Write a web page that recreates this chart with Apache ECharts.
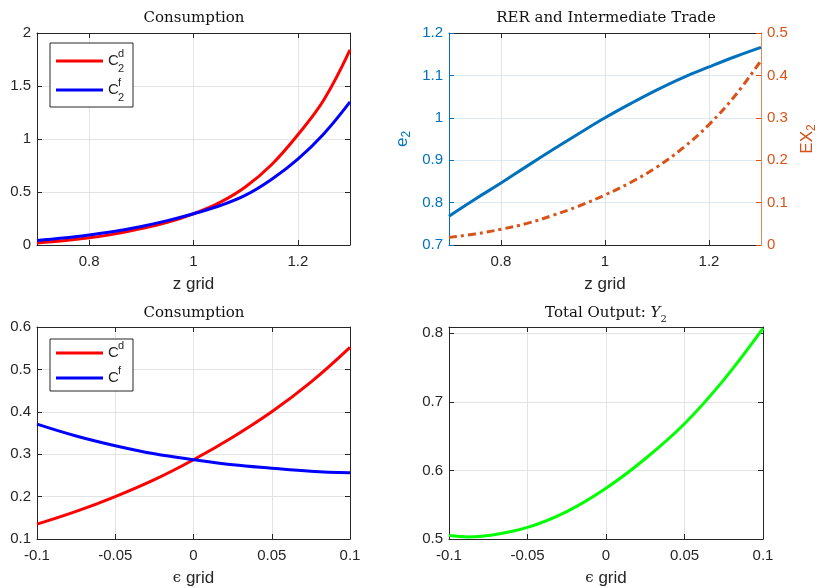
<!DOCTYPE html>
<html>
<head>
<meta charset="utf-8">
<script src="https://cdn.jsdelivr.net/npm/echarts@6/dist/echarts.min.js"></script>
<style>html,body{margin:0;padding:0;background:#fff}#c{width:819px;height:588px}</style>
</head>
<body>
<div id="c"></div>
<script>
// ---- data ----
const zGrid = [0.7, 0.75, 0.8, 0.85, 0.9, 0.95, 1.0, 1.05, 1.1, 1.15, 1.2, 1.25, 1.3];
const zTicks = [0.8, 1.0, 1.2];
const cd2 = [0.02, 0.04, 0.068, 0.105, 0.155, 0.215, 0.295, 0.4, 0.55, 0.76, 1.04, 1.37, 1.84];
const cf2 = [0.042, 0.065, 0.095, 0.13, 0.175, 0.23, 0.295, 0.37, 0.47, 0.62, 0.81, 1.05, 1.35];
const e2 = [0.768, 0.808, 0.846, 0.886, 0.925, 0.963, 1.0, 1.034, 1.066, 1.095, 1.12, 1.144, 1.166];
const ex2 = [0.018, 0.026, 0.037, 0.051, 0.07, 0.092, 0.118, 0.148, 0.184, 0.229, 0.284, 0.352, 0.435];
const epsGrid = [-0.1, -0.075, -0.05, -0.025, 0, 0.025, 0.05, 0.075, 0.1];
const cd = [0.135, 0.165, 0.2, 0.24, 0.287, 0.34, 0.4, 0.47, 0.552];
const cf = [0.371, 0.343, 0.32, 0.301, 0.287, 0.275, 0.267, 0.26, 0.256];
const epsGridY = [-0.1, -0.0875, -0.075, -0.05, -0.025, 0, 0.025, 0.05, 0.075, 0.1];
const y2 = [0.505, 0.503, 0.505, 0.517, 0.54, 0.574, 0.617, 0.668, 0.732, 0.807];

const SANS = 'Liberation Sans, Helvetica, Arial, sans-serif';
const SERIF = 'DejaVu Serif, serif';
const DARK = '#262626';
const GRIDC = '#e3e3e3';
const BLUE = '#0072BD';
const ORANGE = '#D95319';

function pairs(xs, ys) { return xs.map((x, i) => [x, ys[i]]); }

function xBottom(gi, min, max, interval, name, ticks) {
  const ax = {
    gridIndex: gi, type: 'value', min, max, interval, position: 'bottom',
    axisLine: { onZero: false, lineStyle: { color: DARK, width: 1 } },
    axisTick: { inside: true, length: 5, lineStyle: { color: DARK } },
    axisLabel: { color: DARK, fontSize: 15, fontFamily: SANS, margin: 9 },
    splitLine: { show: true, lineStyle: { color: GRIDC } },
    name, nameLocation: 'middle', nameGap: 31,
    nameTextStyle: { color: DARK, fontSize: 17, fontFamily: SANS,
      rich: { e: { fontFamily: SERIF, fontSize: 15, color: DARK } } }
  };
  if (ticks) {
    ax.axisTick.customValues = ticks;
    ax.axisLabel.customValues = ticks;
    ax.splitLine.customValues = ticks;
  }
  return ax;
}
function xTop(gi, min, max, interval, ticks) {
  const ax = {
    gridIndex: gi, type: 'value', min, max, interval, position: 'top',
    axisLine: { onZero: false, lineStyle: { color: DARK, width: 1 } },
    axisTick: { inside: true, length: 5, lineStyle: { color: DARK } },
    axisLabel: { show: false }, splitLine: { show: false }
  };
  if (ticks) ax.axisTick.customValues = ticks;
  return ax;
}
function yLeft(gi, min, max, interval, color, gridColor, extra) {
  return Object.assign({
    gridIndex: gi, type: 'value', min, max, interval, position: 'left',
    axisLine: { show: true, onZero: false, lineStyle: { color: color, width: 1 } },
    axisTick: { show: true, inside: true, length: 5, lineStyle: { color: color } },
    axisLabel: { color: color, fontSize: 15, fontFamily: SANS, margin: 6 },
    splitLine: { show: true, lineStyle: { color: gridColor } }
  }, extra || {});
}
function yRight(gi, min, max, interval) {
  return {
    gridIndex: gi, type: 'value', min, max, interval, position: 'right',
    axisLine: { show: true, onZero: false, lineStyle: { color: DARK, width: 1 } },
    axisTick: { show: true, inside: true, length: 5, lineStyle: { color: DARK } },
    axisLabel: { show: false }, splitLine: { show: false }
  };
}

function legendBox(x, y, w, h, lines) {
  const els = [{ type: 'rect', shape: { x, y, width: w, height: h },
    style: { fill: '#fff', stroke: DARK, lineWidth: 1 }, z: 100 }];
  lines.forEach(l => {
    els.push({ type: 'line', shape: { x1: x + 6, y1: l.y, x2: x + 53, y2: l.y },
      style: { stroke: l.color, lineWidth: 3 }, z: 101 });
    els.push({ type: 'text', x: x + 58, y: l.y, z: 101,
      style: { text: 'C', fontSize: 15, fontFamily: SANS, fill: DARK, verticalAlign: 'middle', align: 'left' } });
    els.push({ type: 'text', x: x + 68, y: l.y - 7, z: 101,
      style: { text: l.sup, fontSize: 11, fontFamily: SANS, fill: DARK, verticalAlign: 'middle', align: 'left' } });
    if (l.sub) {
      els.push({ type: 'text', x: x + 68, y: l.y + 8, z: 101,
        style: { text: l.sub, fontSize: 11, fontFamily: SANS, fill: DARK, verticalAlign: 'middle', align: 'left' } });
    }
  });
  return els;
}

function title(x, y, text, rich) {
  return { type: 'text', x, y, z: 100,
    style: { text, fontSize: 15, fontFamily: SERIF, fill: '#111', align: 'center', verticalAlign: 'middle', rich: rich || {} } };
}

const option = {
  animation: false,
  backgroundColor: '#fff',
  grid: [
    { left: 37, top: 33, width: 313, height: 212 },
    { left: 449, top: 33, width: 314, height: 212 },
    { left: 37, top: 327, width: 313, height: 213 },
    { left: 449, top: 327, width: 314, height: 213 }
  ],
  xAxis: [
    xBottom(0, 0.7, 1.3, 0.1, 'z grid', zTicks), xTop(0, 0.7, 1.3, 0.1, zTicks),
    xBottom(1, 0.7, 1.3, 0.1, 'z grid', zTicks), xTop(1, 0.7, 1.3, 0.1, zTicks),
    xBottom(2, -0.1, 0.1, 0.05, '{e|ϵ} grid'), xTop(2, -0.1, 0.1, 0.05),
    xBottom(3, -0.1, 0.1, 0.05, '{e|ϵ} grid'), xTop(3, -0.1, 0.1, 0.05)
  ],
  yAxis: [
    yLeft(0, 0, 2, 0.5, DARK, GRIDC), yRight(0, 0, 2, 0.5),
    yLeft(1, 0.7, 1.2, 0.1, BLUE, '#dce9f3', {
      name: 'e{s|2}', nameLocation: 'middle', nameRotate: 90, nameGap: 36,
      nameTextStyle: { color: BLUE, fontSize: 17, fontFamily: SANS, lineHeight: 22,
        rich: { s: { fontSize: 12, color: BLUE, fontFamily: SANS, verticalAlign: 'bottom', lineHeight: 11 } } }
    }),
    {
      gridIndex: 1, type: 'value', min: 0, max: 0.5, interval: 0.1, position: 'right',
      axisLine: { show: true, onZero: false, lineStyle: { color: '#E8845A', width: 1 } },
      axisTick: { show: true, inside: true, length: 5, lineStyle: { color: ORANGE } },
      axisLabel: { color: ORANGE, fontSize: 15, fontFamily: SANS, margin: 6 },
      splitLine: { show: false },
      name: 'EX{s|2}', nameLocation: 'middle', nameRotate: 90, nameGap: 35,
      nameTextStyle: { color: ORANGE, fontSize: 17, fontFamily: SANS, lineHeight: 22,
        rich: { s: { fontSize: 12, color: ORANGE, fontFamily: SANS, verticalAlign: 'bottom', lineHeight: 11 } } }
    },
    yLeft(2, 0.1, 0.6, 0.1, DARK, GRIDC), yRight(2, 0.1, 0.6, 0.1),
    yLeft(3, 0.5, 0.809, 0.1, DARK, GRIDC, {}), yRight(3, 0.5, 0.809, 0.1)
  ],
  graphic: [
    title(194, 18, 'Consumption'),
    title(606, 18, 'RER and Intermediate Trade'),
    title(194, 313, 'Consumption'),
    title(606, 313, 'Total Output: {i|Y}{s|2}', {
      i: { fontFamily: SERIF, fontStyle: 'italic', fontSize: 15, fill: '#111', lineHeight: 22 },
      s: { fontFamily: SERIF, fontSize: 10, fill: '#111', verticalAlign: 'bottom', lineHeight: 12 }
    })
  ].concat(
    legendBox(50, 43, 83, 64, [
      { y: 61, color: '#FF0000', sup: 'd', sub: '2' },
      { y: 90, color: '#0000FF', sup: 'f', sub: '2' }
    ]),
    legendBox(50, 339, 83, 52, [
      { y: 353, color: '#FF0000', sup: 'd' },
      { y: 378, color: '#0000FF', sup: 'f' }
    ])
  ),
  series: [
    { type: 'line', name: 'C2d', xAxisIndex: 0, yAxisIndex: 0, data: pairs(zGrid, cd2), smooth: 0.4, showSymbol: false, lineStyle: { color: '#FF0000', width: 3 }, z: 3 },
    { type: 'line', name: 'C2f', xAxisIndex: 0, yAxisIndex: 0, data: pairs(zGrid, cf2), smooth: 0.4, showSymbol: false, lineStyle: { color: '#0000FF', width: 3 }, z: 4 },
    { type: 'line', name: 'e2', xAxisIndex: 2, yAxisIndex: 2, data: pairs(zGrid, e2), smooth: 0.4, showSymbol: false, lineStyle: { color: BLUE, width: 3 } },
    { type: 'line', name: 'EX2', xAxisIndex: 2, yAxisIndex: 3, data: pairs(zGrid, ex2), smooth: 0.4, showSymbol: false, lineStyle: { color: ORANGE, width: 3, type: [8, 4, 3, 4] } },
    { type: 'line', name: 'Cd', xAxisIndex: 4, yAxisIndex: 4, data: pairs(epsGrid, cd), smooth: 0.4, showSymbol: false, lineStyle: { color: '#FF0000', width: 3 } },
    { type: 'line', name: 'Cf', xAxisIndex: 4, yAxisIndex: 4, data: pairs(epsGrid, cf), smooth: 0.4, showSymbol: false, lineStyle: { color: '#0000FF', width: 3 } },
    { type: 'line', name: 'Y2', xAxisIndex: 6, yAxisIndex: 6, data: pairs(epsGridY, y2), smooth: 0.4, showSymbol: false, lineStyle: { color: '#00FF00', width: 3 } }
  ]
};
option.yAxis[6].axisLabel.showMaxLabel = false;

const chart = echarts.init(document.getElementById('c'), null, { renderer: 'canvas' });
chart.setOption(option);
</script>
</body>
</html>
